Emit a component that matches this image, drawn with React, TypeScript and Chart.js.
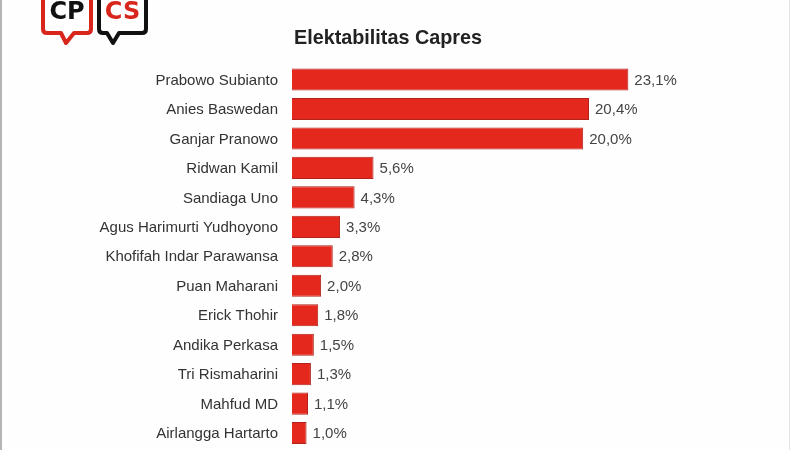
import React, { useEffect, useRef } from "react";
import { Chart, registerables } from "chart.js";

Chart.register(...registerables);

const candidates = [
  "Prabowo Subianto",
  "Anies Baswedan",
  "Ganjar Pranowo",
  "Ridwan Kamil",
  "Sandiaga Uno",
  "Agus Harimurti Yudhoyono",
  "Khofifah Indar Parawansa",
  "Puan Maharani",
  "Erick Thohir",
  "Andika Perkasa",
  "Tri Rismaharini",
  "Mahfud MD",
  "Airlangga Hartarto",
];

const electability = [23.1, 20.4, 20.0, 5.6, 4.3, 3.3, 2.8, 2.0, 1.8, 1.5, 1.3, 1.1, 1.0];

const chartTitle = "Elektabilitas Capres";

const FONT = "'Liberation Sans', Arial, Helvetica, sans-serif";

const fmt = (v: number) => v.toFixed(1).replace(".", ",") + "%";

const valueLabelPlugin = {
  id: "valueLabels",
  afterDatasetsDraw(chart: any) {
    const ctx = chart.ctx;
    const meta = chart.getDatasetMeta(0);
    ctx.save();
    ctx.font = `15px ${FONT}`;
    ctx.fillStyle = "#444444";
    ctx.textAlign = "left";
    ctx.textBaseline = "middle";
    meta.data.forEach((bar: any, i: number) => {
      ctx.fillText(fmt(electability[i]), bar.x + 6, bar.y + 1);
    });
    ctx.restore();
  },
};

const titlePlugin = {
  id: "customTitle",
  afterDraw(chart: any) {
    const ctx = chart.ctx;
    ctx.save();
    ctx.font = `bold 19.8px ${FONT}`;
    ctx.fillStyle = "#222222";
    ctx.textAlign = "left";
    ctx.textBaseline = "alphabetic";
    ctx.fillText(chartTitle, chart.chartArea.left + 2, 44);
    ctx.restore();
  },
};

function Logo() {
  return (
    <svg
      width={160}
      height={50}
      style={{ position: "absolute", left: 0, top: 0 }}
    >
      <path
        d="M43,-10 L43,29 Q43,33 47,33 L61,33 L66,43 L74,33 L87,33 Q91,33 91,29 L91,-10 Z"
        fill="#ffffff"
        stroke="#d9261c"
        strokeWidth={4}
        strokeLinejoin="round"
      />
      <text
        x={67}
        y={19}
        textAnchor="middle"
        fontFamily="'DejaVu Sans', sans-serif"
        fontWeight="bold"
        fontSize={24}
        fill="#111111"
      >
        CP
      </text>
      <path
        d="M99,-10 L99,29 Q99,33 103,33 L107,33 L113,43 L119,33 L142,33 Q146,33 146,29 L146,-10 Z"
        fill="#ffffff"
        stroke="#111111"
        strokeWidth={4}
        strokeLinejoin="round"
      />
      <text
        x={122.5}
        y={19}
        textAnchor="middle"
        fontFamily="'DejaVu Sans', sans-serif"
        fontWeight="bold"
        fontSize={24}
        fill="#d9261c"
      >
        CS
      </text>
    </svg>
  );
}

export default function App() {
  const canvasRef = useRef<HTMLCanvasElement | null>(null);

  useEffect(() => {
    if (!canvasRef.current) return;
    const chart = new Chart(canvasRef.current, {
      type: "bar",
      data: {
        labels: candidates,
        datasets: [
          {
            data: electability,
            backgroundColor: "#e5281e",
            borderColor: "#b0221a",
            borderWidth: 1,
            barPercentage: 0.75,
            categoryPercentage: 1,
          },
        ],
      },
      options: {
        indexAxis: "y",
        responsive: false,
        animation: false,
        layout: {
          padding: { left: 0, right: 61.2, top: 64.8, bottom: 2.2 },
        },
        plugins: {
          legend: { display: false },
          title: { display: false },
          tooltip: { enabled: false },
        },
        scales: {
          x: {
            display: false,
            min: 0,
            max: 30,
          },
          y: {
            grid: { display: false, drawTicks: false },
            border: { display: false },
            ticks: {
              autoSkip: false,
              padding: 14,
              labelOffset: 1,
              color: "#333333",
              font: { family: FONT, size: 15 },
            },
            afterFit(scale: any) {
              scale.width = 292;
              scale.paddingTop = 0;
              scale.paddingBottom = 0;
            },
          },
        },
      },
      plugins: [valueLabelPlugin, titlePlugin],
    });
    return () => chart.destroy();
  }, []);

  return (
    <div
      style={{
        position: "fixed",
        left: 0,
        top: 0,
        width: 790,
        height: 450,
        background: "#fefefe",
        overflow: "hidden",
      }}
    >
      <canvas
        ref={canvasRef}
        width={790}
        height={450}
        style={{ position: "absolute", left: 0, top: 0 }}
      />
      <Logo />
      <div
        style={{
          position: "absolute",
          left: 0,
          top: 0,
          width: 2,
          height: 450,
          background: "#b4b4b4",
        }}
      />
      <div
        style={{
          position: "absolute",
          left: 789,
          top: 0,
          width: 1,
          height: 450,
          background: "#e2e2e2",
        }}
      />
    </div>
  );
}
